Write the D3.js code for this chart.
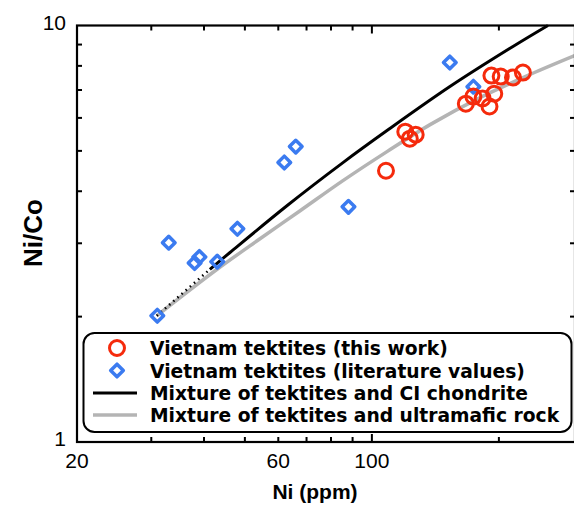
<!DOCTYPE html>
<html>
<head>
<meta charset="utf-8">
<script src="https://cdn.jsdelivr.net/npm/d3@7"></script>
<style>
  body { margin: 0; background: #fff; }
  text { font-family: "Liberation Sans", Arial, Helvetica, sans-serif; }
  text.lt { font-family: "DejaVu Sans", sans-serif; }
</style>
</head>
<body>
<svg id="chart"></svg>
<script>
// Vietnam tektites, this work (Ni ppm, Ni/Co)
var workNi    = [108, 120, 123, 127, 167, 174, 183, 190, 195, 192, 202, 216, 228];
var workRatio = [4.48, 5.56, 5.35, 5.47, 6.49, 6.75, 6.68, 6.39, 6.86, 7.58, 7.54, 7.50, 7.71];

// Vietnam tektites, literature values
var litNi    = [31, 33, 38, 39, 43, 48, 62, 66, 88, 153, 174];
var litRatio = [2.01, 3.01, 2.69, 2.78, 2.71, 3.25, 4.69, 5.12, 3.67, 8.15, 7.13];

// mixing curves
var chondriteNi    = [30.9, 41.3, 46.1, 62.9, 85.4, 108.6, 153.1, 216, 261.4];
var chondriteRatio = [2.009, 2.597, 2.851, 3.692, 4.686, 5.594, 7.134, 8.904, 10.0];
var chondriteDotEnd = 41.3;   // black curve is dotted below this Ni value
var ultramaficNi    = [30.9, 42.5, 54.3, 67.6, 85.4, 108.6, 137.4, 180.4, 237, 303];
var ultramaficRatio = [2.009, 2.577, 3.076, 3.592, 4.242, 4.98, 5.781, 6.713, 7.626, 8.472];

var xTicks = [20, 60, 100];
var xMinor = [30, 40, 50, 70, 80, 90, 200];
var yTicks = [1, 10];
var yMinor = [2, 3, 4, 5, 6, 7, 8, 9];

var legendLabels = ["Vietnam tektites (this work)", "Vietnam tektites (literature values)",
                    "Mixture of tektites and CI chondrite", "Mixture of tektites and ultramafic rock"];

var W = 574, H = 509;
var L = 77, R = 575, T = 25.5, B = 442;

var svg = d3.select("#chart").attr("width", W).attr("height", H);

var x = d3.scaleLog().domain([20, 303]).range([L, R]);
var y = d3.scaleLog().domain([1, 10]).range([B, T]);

var red = "#f52a0c", blue = "#3b7bf0", grey = "#b4b4b4";

// curves
var line = d3.line().x(function(d) { return x(d[0]); }).y(function(d) { return y(d[1]); })
             .curve(d3.curveCatmullRom.alpha(0.5));

var ultra = d3.zip(ultramaficNi, ultramaficRatio);
svg.append("path").attr("d", line(ultra))
   .attr("fill", "none").attr("stroke", grey).attr("stroke-width", 3.5);

var chond = d3.zip(chondriteNi, chondriteRatio);
svg.append("path").attr("d", line(chond.filter(function(d) { return d[0] <= chondriteDotEnd; })))
   .attr("fill", "none").attr("stroke", "#000").attr("stroke-width", 2.5)
   .attr("stroke-dasharray", "1.5,4");
svg.append("path").attr("d", line(chond.filter(function(d) { return d[0] >= chondriteDotEnd; })))
   .attr("fill", "none").attr("stroke", "#000").attr("stroke-width", 3);

// points
var dia = d3.symbol().type(d3.symbolSquare).size(80);
svg.selectAll(".lit").data(d3.zip(litNi, litRatio)).enter().append("path")
   .attr("class", "lit")
   .attr("d", dia)
   .attr("transform", function(d) { return "translate(" + x(d[0]) + "," + y(d[1]) + ") rotate(45)"; })
   .attr("fill", "none").attr("stroke", blue).attr("stroke-width", 3.5)
   .attr("stroke-linejoin", "round");

svg.selectAll(".work").data(d3.zip(workNi, workRatio)).enter().append("circle")
   .attr("class", "work")
   .attr("cx", function(d) { return x(d[0]); })
   .attr("cy", function(d) { return y(d[1]); })
   .attr("r", 7.5)
   .attr("fill", "none").attr("stroke", red).attr("stroke-width", 3);

// frame
svg.append("rect").attr("x", L).attr("y", T).attr("width", R - L).attr("height", B - T)
   .attr("fill", "none").attr("stroke", "#000").attr("stroke-width", 2.2);

// ticks (inward)
function tick(x1, y1, x2, y2) {
  svg.append("line").attr("x1", x1).attr("y1", y1).attr("x2", x2).attr("y2", y2)
     .attr("stroke", "#000").attr("stroke-width", 2);
}
xMinor.concat(xTicks).forEach(function(v) {
  if (v == 20) return;
  var len = (v == 100) ? 8 : 5;
  tick(x(v), B, x(v), B - len);
  tick(x(v), T, x(v), T + len);
});
yMinor.forEach(function(v) {
  tick(L, y(v), L + 5, y(v));
  tick(R, y(v), R - 5, y(v));
});

// tick labels
svg.selectAll(".xl").data(xTicks).enter().append("text")
   .attr("x", function(d) { return x(d); }).attr("y", B + 26)
   .attr("text-anchor", "middle").attr("font-size", 21).text(function(d) { return d; });
svg.selectAll(".yl").data(yTicks).enter().append("text")
   .attr("x", L - 11).attr("y", function(d) { return y(d) + 4; })
   .attr("text-anchor", "end").attr("font-size", 21).text(function(d) { return d; });

// axis titles
svg.append("text").attr("x", 315).attr("y", 499).attr("text-anchor", "middle")
   .attr("font-size", 21).attr("font-weight", "bold").text("Ni (ppm)");
svg.append("text").attr("transform", "translate(42,233) rotate(-90)")
   .attr("text-anchor", "middle").attr("font-size", 26).attr("font-weight", "bold").text("Ni/Co");

// legend
var lg = svg.append("g");
lg.append("rect").attr("x", 83.5).attr("y", 333).attr("width", 488).attr("height", 99)
  .attr("rx", 11).attr("fill", "#fff").attr("stroke", "#000").attr("stroke-width", 2);
var rowY = [348, 370.5, 393, 415];
lg.append("circle").attr("cx", 117).attr("cy", rowY[0]).attr("r", 7.5)
  .attr("fill", "none").attr("stroke", red).attr("stroke-width", 3);
lg.append("path").attr("d", dia).attr("transform", "translate(117," + rowY[1] + ") rotate(45)")
  .attr("fill", "none").attr("stroke", blue).attr("stroke-width", 3.5).attr("stroke-linejoin", "round");
lg.append("line").attr("x1", 93).attr("x2", 137).attr("y1", rowY[2]).attr("y2", rowY[2])
  .attr("stroke", "#000").attr("stroke-width", 3);
lg.append("line").attr("x1", 93).attr("x2", 137).attr("y1", rowY[3]).attr("y2", rowY[3])
  .attr("stroke", grey).attr("stroke-width", 3.5);
lg.selectAll(".lt").data(legendLabels).enter().append("text")
  .attr("class", "lt")
  .attr("x", 150).attr("y", function(d, i) { return rowY[i] + 7; })
  .attr("font-size", 18.7).attr("font-weight", "bold").text(function(d) { return d; });
</script>
</body>
</html>
